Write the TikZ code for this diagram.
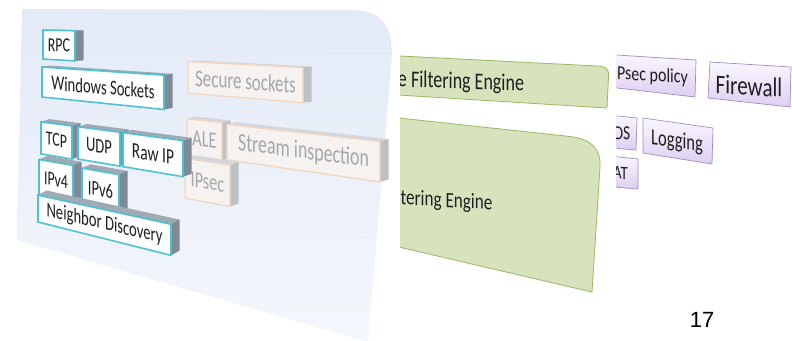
\documentclass[tikz,border=0pt]{standalone}
\usepackage{fontspec}
\setmainfont{Carlito}
\newfontfamily\numfont{Liberation Sans}
\definecolor{panelTop}{HTML}{E3EAF7}
\definecolor{panelBot}{HTML}{F4F7FC}
\definecolor{cubeEdge}{HTML}{4EC2D3}
\definecolor{cubeTop}{HTML}{9FAAB5}
\definecolor{cubeSide}{HTML}{7E8A96}
\definecolor{ghostFace}{HTML}{F5F2F0}
\definecolor{ghostEdge}{HTML}{F2D6C0}
\definecolor{ghostTop}{HTML}{D3D7DB}
\definecolor{ghostSide}{HTML}{BCC1C6}
\definecolor{ghostText}{HTML}{A4A7AD}
\definecolor{engFill}{HTML}{D6E3BC}
\definecolor{engEdge}{HTML}{9DB862}
\definecolor{lilacTop}{HTML}{FAF7FE}
\definecolor{lilacBot}{HTML}{DDCFF2}
\definecolor{lilacEdge}{HTML}{A08CBE}

\tikzset{
  lit front/.style={fill=white, draw=cubeEdge, line width=1.6pt},
  lit top/.style={fill=cubeTop},
  lit side/.style={fill=cubeSide},
  lit text/.style={text=black!88},
  dim front/.style={fill=ghostFace, draw=ghostEdge, line width=1.3pt},
  dim top/.style={fill=ghostTop},
  dim side/.style={fill=ghostSide},
  dim text/.style={text=ghostText},
  engine/.style={fill=engFill, draw=engEdge, line width=0.8pt},
  lilac/.style={top color=lilacTop, bottom color=lilacBot, draw=lilacEdge, line width=0.7pt},
  label/.style={inner sep=0pt, text=black!88},
}

% perspective of the tilted left panel: flat row v seen at column u
\newcommand\yproj[2]{(10+((#2)-10)*(((#1)+808)/850))}

% extruded box: name, u1, u2, v1, v2, look (lit|dim), text
\newcommand\slab[7]{%
  \pgfmathsetmacro\sA{\yproj{#2}{#4}}%
  \pgfmathsetmacro\sB{\yproj{#3}{#4}}%
  \pgfmathsetmacro\sC{\yproj{#3}{#5}}%
  \pgfmathsetmacro\sD{\yproj{#2}{#5}}%
  \pgfmathsetmacro\sT{0.025*((#4)-10)}%
  \pgfmathsetmacro\sL{(#2)+8.5}%
  \pgfmathsetmacro\sR{(#3)+8.5}%
  \fill[#6 top] (#2,\sA) -- (\sL,\sA-\sT) -- (\sR,\sB-\sT) -- (#3,\sB) -- cycle;
  \fill[#6 side] (#3,\sB) -- (\sR,\sB-\sT) -- (\sR,\sC-\sT) -- (#3,\sC) -- cycle;
  \filldraw[#6 front] (#2,\sA) -- (#3,\sB) -- (#3,\sC) -- (#2,\sD) -- cycle;
  \pgfmathsetmacro\sU{((#2)+(#3))/2}%
  \pgfmathsetmacro\sY{(\sA+\sB+\sC+\sD)/4}%
  \pgfmathsetmacro\sS{(((#4)+(#5))/2-10)/850}%
  \pgfmathsetmacro\sF{(\sU+808)/850}%
  \begin{scope}[shift={(\sU,\sY)}, yslant=-\sS, xscale=0.7*\sF, yscale=\sF]
    \node[#6 text, inner sep=0pt, transform shape, font=\fontsize{19.5}{19.5}\selectfont] (#1) at (0,0) {#7};
  \end{scope}%
}

% slanted label: name, x, y, slope, xscale, size, text
\newcommand\slanted[7]{%
  \begin{scope}[shift={(#2,#3)}, yslant=-(#4), xscale=#5]
    \node[label, transform shape, font=\fontsize{#6}{#6}\selectfont] (#1) at (0,0) {#7};
  \end{scope}%
}

\begin{document}
\begin{tikzpicture}[x=1pt,y=-1pt]
\useasboundingbox (0,0) rectangle (792,340);
\clip (0,0) rectangle (792,340);
\fill[white] (0,0) rectangle (792,340);

% tilted left panel
\shade[top color=panelTop, bottom color=panelBot]
  (22,9) -- (350,10) .. controls (384,10) and (392,28) .. (392,55)
  -- (368,342) -- (17,240) -- cycle;
\draw[gray!25, densely dotted, line width=0.6pt] (327,53) -- (392,53);
\draw[gray!22, densely dotted, line width=0.6pt] (357,237) -- (376,238);

% faded boxes
\slab{ssl}{188}{303}{54}{81}{dim}{Secure sockets}
\slab{ale}{187}{222}{103}{134}{dim}{ALE}
\slab{stream}{227}{380}{104}{133}{dim}{Stream inspection}
\slab{ipsecl}{185}{230}{137}{171}{dim}{IPsec}

% stack boxes
\slab{rpc}{43}{75}{30}{59}{lit}{RPC}
\slab{winsock}{42}{164}{67}{97}{lit}{Windows Sockets}
\slab{tcp}{41}{72}{122}{154}{lit}{TCP}
\slab{udp}{78}{120}{122}{153}{lit}{UDP}
\slab{rawip}{123}{183}{122}{153}{lit}{Raw IP}
\slab{ipv4}{39}{73}{160}{195}{lit}{IPv4}
\slab{ipv6}{82}{119}{161}{195}{lit}{IPv6}
\slab{nd}{38}{171}{196}{223}{lit}{Neighbor Discovery}

% filtering engine panels
\begin{scope}
  \clip (400,0) rectangle (615,340);
  \filldraw[engine] (390,55.5) -- (598,66) .. controls (606,66.5) and (609,69) .. (608.5,76)
    -- (607,108) -- (390,94.5) -- cycle;
  \filldraw[engine] (390,117) -- (570,136.5) .. controls (592,139) and (601,150) .. (600,167)
    -- (592,292) -- (390,245) -- cycle;
  \slanted{bfe}{461}{82.5}{0.035}{0.75}{24}{e Filtering Engine}
  \slanted{kfe}{446.5}{201.5}{0.06}{0.78}{22}{tering Engine}
\end{scope}

% callout tiles
\begin{scope}
  \clip (616.5,0) rectangle (792,340);
  \shadedraw[lilac] (600,54) -- (696,60) -- (695,97) -- (600,86) -- cycle;
  \shadedraw[lilac] (710,62) -- (791,67) -- (790,107) -- (708,98) -- cycle;
  \shadedraw[lilac] (600,114) -- (637,118) -- (636,150) -- (600,147) -- cycle;
  \shadedraw[lilac] (643,118) -- (713,128) -- (712,164) -- (643,153) -- cycle;
  \shadedraw[lilac] (600,155) -- (638,159) -- (638,189) -- (600,186) -- cycle;
  \slanted{policy}{652.5}{76}{0.06}{0.8}{20}{Psec policy}
  \slanted{firewall}{749}{86}{0.06}{0.78}{27}{Firewall}
  \slanted{ids}{622}{133}{0.05}{0.78}{20}{DS}
  \slanted{logging}{677}{142}{0.12}{0.72}{23}{Logging}
  \slanted{nat}{620.5}{173}{0.04}{0.78}{19}{AT}
\end{scope}

\node[inner sep=0pt, font=\numfont\fontsize{22}{22}\selectfont] (pagenum) at (702,320) {17};
\end{tikzpicture}
\end{document}
